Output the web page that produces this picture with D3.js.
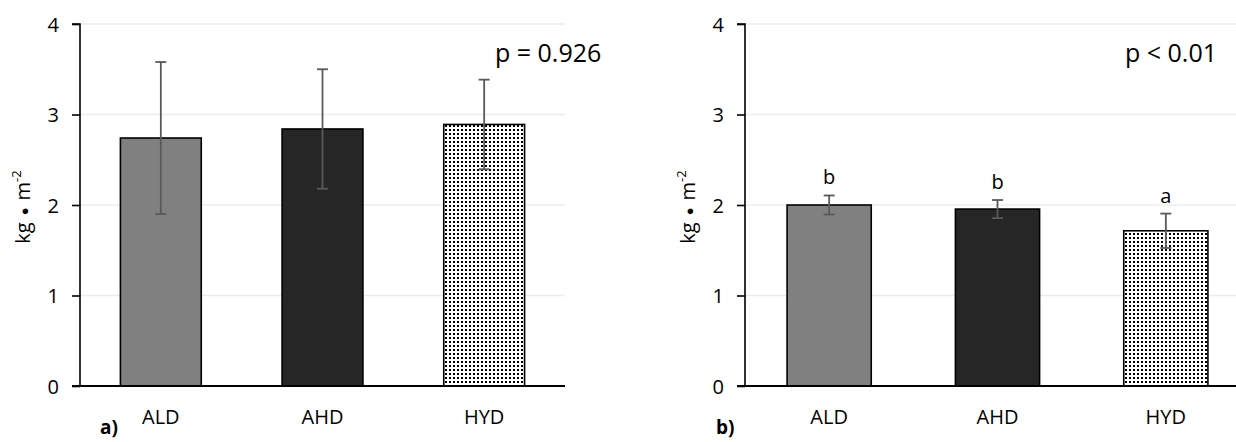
<!DOCTYPE html>
<html>
<head>
<meta charset="utf-8">
<script src="https://cdn.jsdelivr.net/npm/d3@7"></script>
<style>
  html, body { margin: 0; padding: 0; background: #fff; }
  svg { display: block; font-family: "Open Sans", "Noto Sans", sans-serif; }
</style>
</head>
<body>
<svg id="chart" width="1236" height="442"></svg>
<script>
const categories = ["ALD", "AHD", "HYD"];
const yTicks = [0, 1, 2, 3, 4];
const valuesA = [2.74, 2.84, 2.89];
const errorsA = [0.84, 0.66, 0.495];
const valuesB = [2.00, 1.955, 1.715];
const errorsB = [0.105, 0.10, 0.19];
const lettersB = ["b", "b", "a"];
const pTextA = "p = 0.926";
const pTextB = "p < 0.01";
const panelLabels = ["a)", "b)"];
const barFills = ["#808080", "#262626", "url(#dots)"];

const svg = d3.select("#chart");
const defs = svg.append("defs");
const pat = defs.append("pattern").attr("id", "dots")
  .attr("patternUnits", "userSpaceOnUse").attr("width", 4).attr("height", 4);
pat.append("rect").attr("width", 4).attr("height", 4).attr("fill", "#fff");
pat.append("rect").attr("x", 1).attr("y", 1).attr("width", 2).attr("height", 2).attr("fill", "#000")
  .attr("shape-rendering", "crispEdges");

function panel(opts) {
  const g = svg.append("g");
  const x = d3.scaleBand().domain(categories).range([opts.x0, opts.x1]).paddingInner(0.5).paddingOuter(0.25);
  const y = d3.scaleLinear().domain([0, 4]).range([386, 24]);

  // gridlines
  g.append("g").selectAll("line").data(yTicks.filter(t => t > 0)).join("line")
    .attr("x1", opts.x0).attr("x2", opts.gridEnd)
    .attr("y1", d => y(d)).attr("y2", d => y(d))
    .attr("stroke", "#ececec").attr("stroke-width", 1.5);

  // y axis
  const ya = d3.axisLeft(y).tickValues(yTicks).tickFormat(d3.format("d")).tickSize(8).tickPadding(13);
  const yg = g.append("g").attr("transform", `translate(${opts.x0},0)`).call(ya)
    .attr("font-size", 20).attr("font-family", null);
  yg.select(".domain").attr("stroke", "#000").attr("stroke-width", 1.6).attr("d", `M-8,${y(4)}H0V${y(0)}H-8`);
  yg.selectAll(".tick line").attr("stroke", "#000").attr("stroke-width", 1.6);
  yg.selectAll(".tick text").attr("font-size", 20).attr("fill", "#000").attr("dy", "0.36em");

  // bars
  g.append("g").selectAll("rect").data(categories).join("rect")
    .attr("x", d => x(d)).attr("width", x.bandwidth())
    .attr("y", (d, i) => y(opts.values[i]))
    .attr("height", (d, i) => y(0) - y(opts.values[i]))
    .attr("fill", (d, i) => barFills[i])
    .attr("stroke", "#000").attr("stroke-width", 1.6);

  // x axis baseline
  g.append("line").attr("x1", opts.x0 - 8).attr("x2", opts.gridEnd)
    .attr("y1", y(0)).attr("y2", y(0)).attr("stroke", "#000").attr("stroke-width", 1.8);

  // error bars
  const eg = g.append("g").attr("stroke", "#595959").attr("stroke-width", 1.8);
  categories.forEach((c, i) => {
    const cx = x(c) + x.bandwidth() / 2;
    const top = y(opts.values[i] + opts.errors[i]);
    const bot = y(opts.values[i] - opts.errors[i]);
    eg.append("line").attr("x1", cx).attr("x2", cx).attr("y1", top).attr("y2", bot);
    eg.append("line").attr("x1", cx - 5.5).attr("x2", cx + 5.5).attr("y1", top).attr("y2", top);
    eg.append("line").attr("x1", cx - 5.5).attr("x2", cx + 5.5).attr("y1", bot).attr("y2", bot);
    if (opts.letters) {
      g.append("text").attr("x", cx).attr("y", top - 11).attr("text-anchor", "middle")
        .attr("font-size", 20).attr("fill", "#000").text(opts.letters[i]);
    }
  });

  // category labels
  g.append("g").selectAll("text").data(categories).join("text")
    .attr("x", d => x(d) + x.bandwidth() / 2).attr("y", 424)
    .attr("text-anchor", "middle").attr("font-size", 20).attr("fill", "#000").text(d => d);

  // y label
  const yl = g.append("text").attr("transform", `translate(${opts.ylabX},207) rotate(-90)`)
    .attr("text-anchor", "middle").attr("font-size", 20).attr("fill", "#000");
  yl.append("tspan").text("kg");
  yl.append("tspan").attr("dx", 7).attr("font-size", 13).attr("dy", -1).text("\u25CF");
  yl.append("tspan").attr("dx", 7).attr("dy", 1).text("m");
  yl.append("tspan").attr("font-size", 13).attr("dy", -9).text("-2");

  // p text
  g.append("text").attr("x", opts.pX).attr("y", 62).attr("font-size", 25).attr("fill", "#000").text(opts.pText);

  // panel label
  g.append("text").attr("x", opts.labX).attr("y", 434).attr("font-size", 19).attr("font-weight", "bold")
    .attr("fill", "#000").text(opts.label);
}

panel({ x0: 80, x1: 565, gridEnd: 565, values: valuesA, errors: errorsA, pText: pTextA, pX: 495,
        ylabX: 30, labX: 100, label: panelLabels[0] });
panel({ x0: 745, x1: 1250, gridEnd: 1236, values: valuesB, errors: errorsB, letters: lettersB, pText: pTextB, pX: 1125,
        ylabX: 695, labX: 716, label: panelLabels[1] });
</script>
</body>
</html>
